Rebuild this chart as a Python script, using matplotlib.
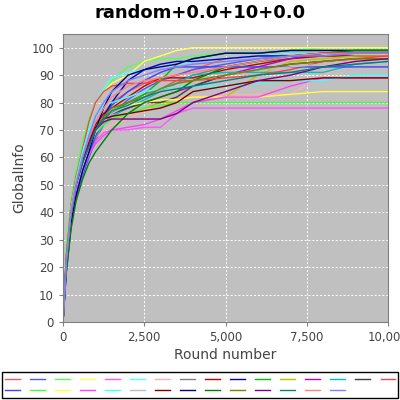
import numpy as np
import matplotlib.pyplot as plt
from matplotlib.ticker import FuncFormatter, MultipleLocator

#%% Data (GlobalInfo vs round number, 30 runs)

rounds = [0, 100, 250, 400, 600, 800, 1000, 1250, 1500, 2000, 2500,
          3000, 3500, 4000, 5000, 6000, 7000, 8000, 9000, 10000]

run_values = [
    [0, 22, 40, 48, 56, 63, 70, 76, 80, 84, 87, 89, 90, 92, 96, 97, 98, 98, 99, 99],
    [0, 18, 35, 45, 53, 60, 66, 72, 76, 81, 85, 88, 90, 92, 94, 96, 97, 97, 98, 98],
    [0, 28, 45, 55, 66, 74, 80, 85, 88, 93, 95, 96, 96, 97, 98, 98, 99, 100, 100, 100],
    [0, 25, 42, 52, 62, 72, 80, 84, 87, 90, 95, 97, 99, 100, 100, 100, 100, 100, 100, 100],
    [0, 20, 38, 47, 55, 62, 66, 69, 70, 70, 71, 71, 76, 78, 78, 78, 78, 78, 78, 78],
    [0, 24, 42, 52, 62, 72, 80, 85, 89, 91, 92, 93, 94, 95, 96, 97, 98, 98, 98, 98],
    [0, 22, 40, 50, 58, 63, 67, 70, 72, 74, 77, 80, 82, 82, 83, 83, 83, 90, 95, 98],
    [0, 20, 38, 48, 56, 62, 67, 72, 76, 80, 83, 85, 88, 90, 93, 95, 96, 97, 97, 97],
    [0, 24, 42, 52, 60, 67, 72, 76, 78, 82, 86, 89, 89, 89, 92, 94, 96, 97, 97, 97],
    [0, 20, 37, 48, 56, 62, 68, 75, 80, 88, 92, 94, 95, 95, 96, 97, 97, 98, 98, 98],
    [0, 22, 40, 50, 58, 64, 70, 74, 77, 80, 83, 88, 94, 96, 98, 98, 99, 99, 99, 99],
    [0, 20, 38, 48, 57, 63, 68, 72, 74, 76, 78, 80, 80, 80, 82, 90, 95, 96, 97, 97],
    [0, 22, 40, 50, 58, 64, 70, 74, 76, 78, 80, 82, 84, 86, 90, 93, 96, 98, 98, 98],
    [0, 20, 38, 48, 56, 62, 68, 72, 75, 78, 81, 84, 87, 90, 91, 91, 91, 91, 94, 95],
    [0, 22, 40, 50, 58, 65, 70, 74, 76, 78, 80, 80, 82, 86, 90, 92, 94, 95, 96, 96],
    [0, 24, 43, 53, 63, 73, 80, 84, 86, 87, 87, 88, 88, 88, 89, 90, 92, 95, 96, 97],
    [0, 18, 36, 46, 55, 62, 68, 74, 79, 84, 88, 91, 93, 93, 93, 93, 93, 93, 93, 93],
    [0, 22, 40, 50, 58, 64, 69, 72, 74, 76, 78, 79, 80, 80, 80, 80, 80, 80, 80, 80],
    [0, 22, 40, 50, 58, 64, 70, 74, 77, 79, 80, 81, 81, 82, 82, 82, 83, 84, 84, 84],
    [0, 20, 38, 47, 55, 61, 65, 68, 70, 71, 72, 74, 77, 80, 82, 82, 86, 89, 89, 89],
    [0, 23, 42, 52, 62, 70, 75, 79, 80, 82, 84, 85, 86, 86, 86, 87, 88, 88, 90, 90],
    [0, 21, 39, 49, 57, 63, 69, 73, 76, 79, 82, 84, 86, 88, 90, 92, 93, 94, 95, 95],
    [0, 22, 40, 50, 59, 66, 71, 74, 75, 76, 77, 78, 80, 84, 86, 88, 88, 89, 89, 89],
    [0, 20, 36, 46, 55, 62, 70, 78, 84, 90, 92, 93, 94, 96, 98, 98, 99, 99, 99, 99],
    [0, 18, 34, 44, 52, 58, 62, 66, 70, 76, 80, 82, 84, 88, 93, 95, 97, 98, 99, 99],
    [0, 22, 40, 50, 58, 64, 70, 75, 78, 80, 82, 85, 87, 88, 90, 92, 94, 95, 96, 96],
    [0, 22, 40, 50, 58, 65, 70, 73, 74, 74, 74, 74, 76, 80, 84, 88, 90, 93, 95, 96],
    [0, 22, 40, 50, 58, 64, 70, 74, 77, 79, 82, 84, 85, 86, 88, 90, 91, 93, 94, 95],
    [0, 22, 41, 51, 60, 67, 73, 78, 82, 86, 88, 89, 90, 91, 93, 95, 97, 98, 98, 98],
    [0, 22, 40, 50, 60, 68, 75, 80, 84, 88, 90, 92, 93, 94, 95, 96, 97, 97, 98, 98],
]

# JFreeChart default series paints
colors = ['#FF5555', '#5555FF', '#55FF55', '#FFFF55', '#FF55FF', '#55FFFF',
          '#FFAFAF', '#808080', '#C00000', '#0000C0', '#00C000', '#C0C000',
          '#C000C0', '#00C0C0', '#404040', '#FF4040', '#4040FF', '#40FF40',
          '#FFFF40', '#FF40FF', '#40FFFF', '#C0C0C0', '#800000', '#000080',
          '#008000', '#808000', '#800080', '#008080', '#FF8080', '#8080FF']

#%% Plot

fig = plt.figure(figsize=(4, 4), dpi=100)
ax = fig.add_axes([0.1575, 0.195, 0.8125, 0.72])
ax.set_facecolor('#C0C0C0')

lines = []
for vals, c in zip(run_values, colors):
    ln, = ax.plot(rounds, vals, color=c, lw=1)
    lines.append(ln)

ax.set_xlim(0, 10000)
ax.set_ylim(0, 105)
ax.xaxis.set_major_locator(MultipleLocator(2500))
ax.yaxis.set_major_locator(MultipleLocator(10))
ax.xaxis.set_major_formatter(FuncFormatter(lambda v, p: f'{int(v):,}'))
ax.grid(True, color='white', ls=(0, (2, 2)), lw=0.7)
ax.set_axisbelow(True)
for s in ax.spines.values():
    s.set_color('#808080')
ax.tick_params(colors='#808080', labelcolor='#444444', labelsize=8.5, length=3)

fig.text(0.5, 0.968, 'random+0.0+10+0.0', fontsize=13, fontweight='bold',
         ha='center', va='center')
ax.set_xlabel('Round number', fontsize=10, color='#444444', labelpad=3)
ax.set_ylabel('GlobalInfo', fontsize=10, color='#444444', labelpad=4)

# legend fills rows first: 16 in the top row, 14 below
order = []
for j in range(16):
    order.append(j)
    if 16 + j < len(lines):
        order.append(16 + j)
leg = fig.legend([lines[i] for i in order], [''] * len(order),
                 loc='lower left', bbox_to_anchor=(0.005, 0.005, 0.99, 0.06),
                 mode='expand', ncols=16, fontsize=7, handlelength=1.5,
                 handletextpad=0, columnspacing=0.9, labelspacing=0.05,
                 borderpad=0.3, borderaxespad=0, fancybox=False,
                 edgecolor='black', framealpha=1)
leg.get_frame().set_linewidth(1)

plt.savefig('out.png', dpi=100)
